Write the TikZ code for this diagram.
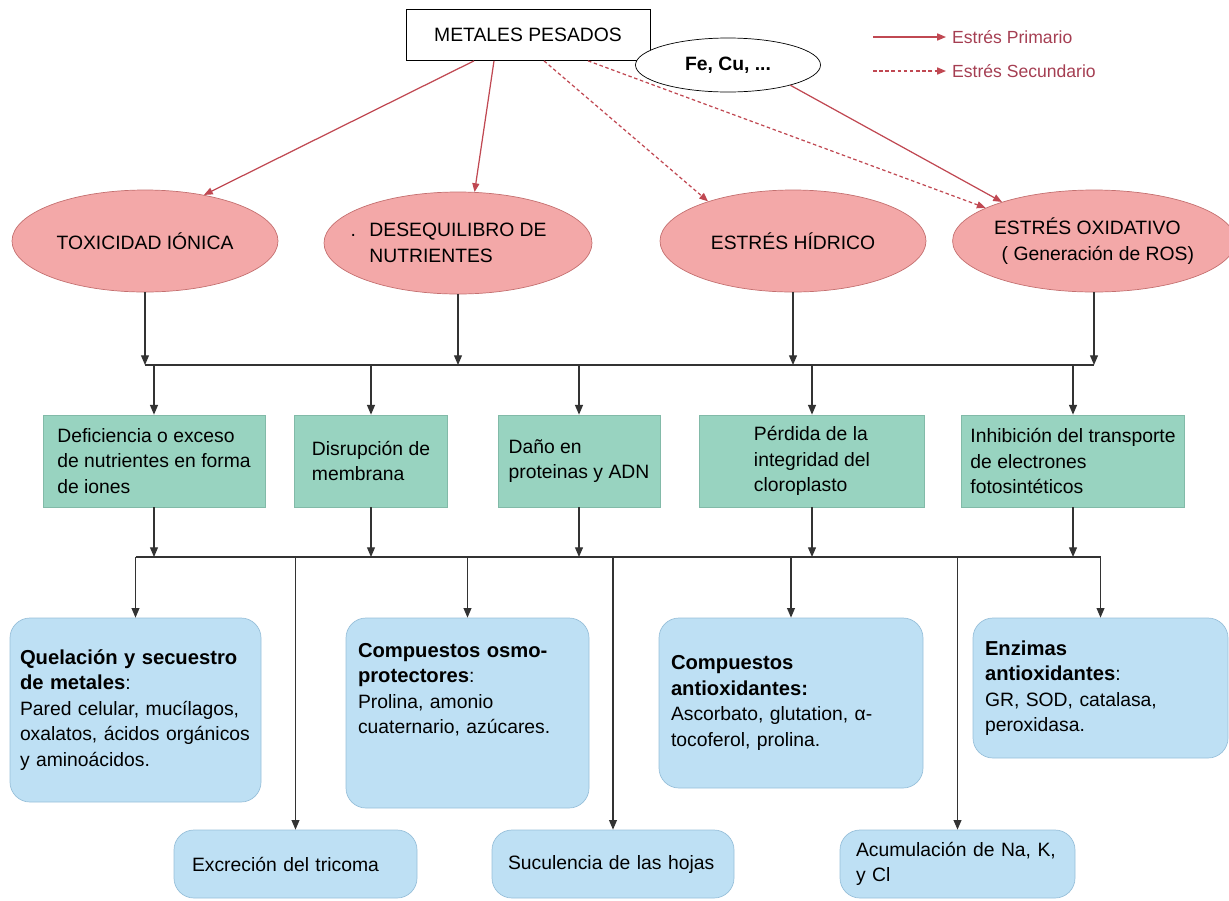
\documentclass[tikz,border=0pt]{standalone}
\usepackage{fontspec}
\setmainfont{Liberation Sans}
\usetikzlibrary{arrows.meta,shapes.geometric}
\newdimen\pxu \pxu=0.02cm

\definecolor{rosa}{RGB}{243,168,168}
\definecolor{rosaborde}{RGB}{196,112,112}
\definecolor{menta}{RGB}{152,211,192}
\definecolor{mentaborde}{RGB}{130,186,168}
\definecolor{celeste}{RGB}{190,224,244}
\definecolor{celesteborde}{RGB}{152,192,218}
\definecolor{flecharoja}{RGB}{192,72,82}
\definecolor{leyenda}{RGB}{165,62,82}

\tikzset{
  estres/.style={ellipse, draw=rosaborde, fill=rosa, minimum width=266\pxu, minimum height=102\pxu, inner sep=0pt, align=left},
  efecto/.style={rectangle, draw=mentaborde, fill=menta, minimum height=92\pxu, inner sep=0pt, align=left},
  respuesta/.style={rectangle, rounded corners=20\pxu, draw=celesteborde, fill=celeste, inner xsep=12\pxu, inner ysep=0pt, align=left},
  flecha/.style={draw=black!80, line width=0.7pt, -{Triangle[length=5.5pt,width=4.5pt]}},
  linea/.style={draw=black!80, line width=0.7pt},
  primario/.style={draw=flecharoja, line width=0.7pt, -{Triangle[length=5pt,width=4pt]}},
  secundario/.style={primario, dash pattern=on 2pt off 1.5pt},
}

\begin{document}
\begin{tikzpicture}[x=0.02cm, y=-0.02cm, font=\fontsize{11}{14.5}\selectfont]
		\useasboundingbox (0,0) rectangle (1229,900);
		% origen
		\node[draw, fill=white, minimum width=244\pxu, minimum height=51\pxu] (metales) at (528,35) {METALES PESADOS};
		\node[ellipse, draw, fill=white, minimum width=185\pxu, minimum height=54\pxu, font=\fontsize{11}{14}\bfseries] (fecu) at (728,65) {Fe, Cu, ...};
		% leyenda
		\node[anchor=west, text=leyenda, font=\fontsize{10}{12}\selectfont] (lprim) at (946,37) {Estrés Primario};
		\node[anchor=west, text=leyenda, font=\fontsize{10}{12}\selectfont] (lsec) at (946,71) {Estrés Secundario};
		\coordinate (lprimini) at (873,37);
		\coordinate (lsecini) at (873,71);
		\draw[primario] (lprimini) -- (lprim.west);
		\draw[secundario] (lsecini) -- (lsec.west);
		% tipos de estres
		\node[estres] (toxi) at (145,241) {TOXICIDAD IÓNICA};
		\node[estres, minimum width=268\pxu] (deseq) at (458,243) {\llap{.\hspace{0.7em}}DESEQUILIBRO DE\\NUTRIENTES};
		\node[estres] (hidri) at (793,241) {ESTRÉS HÍDRICO};
		\node[estres, minimum width=263\pxu] (oxida) at (1094,241) {ESTRÉS OXIDATIVO\\\hspace{0.4em}( Generación de ROS)};
		\draw[primario] ([xshift=-54\pxu]metales.south) -- (toxi.38);
		\draw[primario] ([xshift=-34\pxu]metales.south) -- (deseq.72);
		\draw[secundario] ([xshift=16\pxu]metales.south) -- (hidri.155);
		\draw[secundario] ([xshift=60\pxu]metales.south) -- (oxida.163);
		\draw[primario] (fecu.-18) -- (oxida.157);
		% efectos
		\coordinate (bus1) at (0,365);
		\coordinate (bus2) at (0,557);
		\node[efecto, minimum width=222\pxu] (defic) at (154,461) {Deficiencia o exceso\\de nutrientes en forma\\de iones};
		\node[efecto, minimum width=153\pxu] (disru) at (371,461) {Disrupción de\\membrana};
		\node[efecto, minimum width=162\pxu] (dano) at (579,461) {Daño en\\proteinas y ADN};
		\node[efecto, minimum width=225\pxu] (perdi) at (812,461) {Pérdida de la\\integridad del\\cloroplasto};
		\node[efecto, minimum width=223\pxu] (inhib) at (1073,461) {Inhibición del transporte\\de electrones\\fotosintéticos};
		\foreach \n in {toxi,deseq,hidri,oxida}
			\draw[flecha] (\n.south) -- (\n.south |- bus1);
		\draw[linea] (toxi.south |- bus1) -- (oxida.south |- bus1);
		\foreach \n in {defic,disru,dano,perdi,inhib}
			\draw[flecha] (\n.north |- bus1) -- (\n.north);
		% respuestas
		\node[respuesta, text width=231\pxu, inner xsep=10\pxu, minimum height=184\pxu] (quela) at (135.5,710) {{\bfseries\fontsize{11.5}{14.5}\selectfont Quelación y secuestro\\de metales}:\\Pared celular, mucílagos,\\oxalatos, ácidos orgánicos\\y aminoácidos.};
		\node[respuesta, text width=219\pxu, minimum height=190\pxu] (osmo) at (467.5,713) {{\bfseries\fontsize{11.5}{14.5}\selectfont Compuestos osmo-\\protectores}:\\Prolina, amonio\\cuaternario, azúcares.\\[1.2em]\mbox{}};
		\node[respuesta, text width=240\pxu, minimum height=170\pxu] (antiox) at (791,703) {{\bfseries\fontsize{11.5}{14.5}\selectfont Compuestos\\antioxidantes:}\\Ascorbato, glutation, α-\\tocoferol, prolina.};
		\node[respuesta, text width=231\pxu, minimum height=140\pxu] (enzim) at (1100.5,688) {{\bfseries\fontsize{11.5}{14.5}\selectfont Enzimas\\antioxidantes}:\\GR, SOD, catalasa,\\peroxidasa.};
		\node[respuesta, text width=207\pxu, inner xsep=18\pxu, minimum height=68\pxu] (excre) at (295.5,864) {Excreción del tricoma};
		\node[respuesta, text width=210\pxu, inner xsep=16\pxu, minimum height=68\pxu] (sucul) at (613,864) {Suculencia de las hojas};
		\node[respuesta, text width=203\pxu, inner xsep=16\pxu, minimum height=68\pxu] (acumu) at (957.5,864) {Acumulación de Na, K,\\y Cl};
		\foreach \n in {defic,disru,dano,perdi,inhib}
			\draw[flecha] (\n.south) -- (\n.south |- bus2);
		\draw[linea] (quela.north |- bus2) -- (enzim.north |- bus2);
		\foreach \n in {quela,excre,osmo,sucul,antiox,acumu,enzim}
			\draw[flecha] (\n.north |- bus2) -- (\n.north);
\end{tikzpicture}
\end{document}
